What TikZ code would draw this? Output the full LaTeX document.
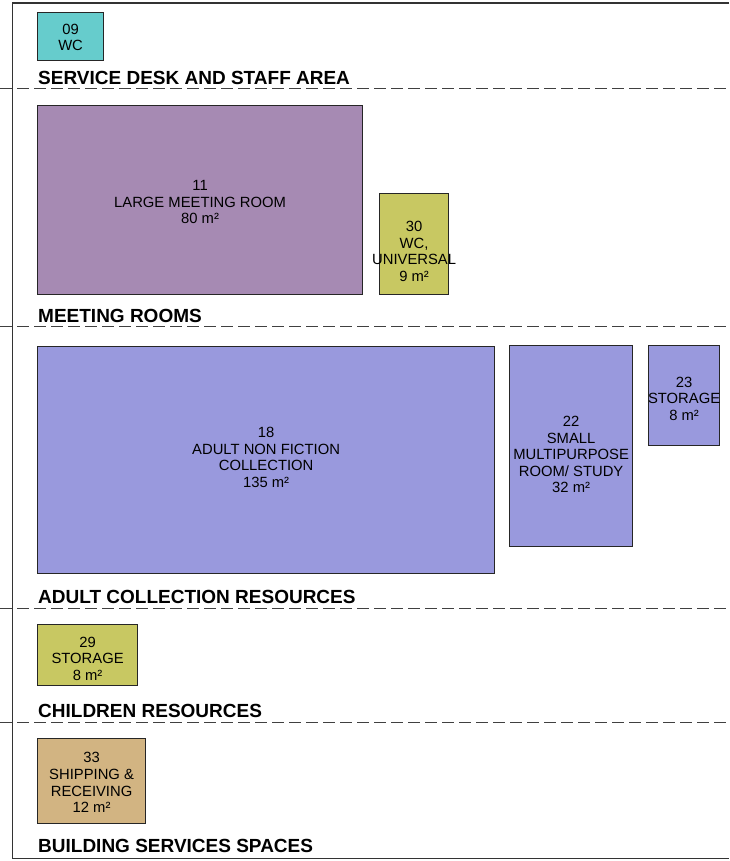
\documentclass[tikz,border=0pt]{standalone}
\usepackage{fontspec}
\setmainfont{Liberation Sans}
\begin{document}
\begin{tikzpicture}[x=1pt,y=-1pt,
  room/.style={draw=black!85, line width=1.2pt, inner sep=0pt, anchor=north west},
  roomtext/.style={align=center, inner sep=0pt, font=\fontsize{14.8}{16.6}\selectfont},
  zonelabel/.style={anchor=base west, inner sep=0pt, font=\bfseries\fontsize{19}{20}\selectfont},
  divider/.style={draw=black!75, line width=1.3pt, dash pattern=on 12pt off 5pt},
  frame/.style={draw=black!80, line width=1.3pt}]
\definecolor{wcteal}{HTML}{66CCCC}
\definecolor{meetpurple}{HTML}{A68AB3}
\definecolor{olive}{HTML}{C8C862}
\definecolor{lavender}{HTML}{9999DD}
\definecolor{tan}{HTML}{D2B482}

\useasboundingbox (0,0) rectangle (729,861);

% outer frame, open on the right
\draw[frame] (729,3) -- (12.5,3) -- (12.5,858.5) -- (729,858.5);

% zone dividers
\foreach \yy in {88.5,326.5,608.5,722.5}
  \draw[divider] (0,\yy) -- (729,\yy);

% zone titles
\node[zonelabel] (zsd) at (38,85) {SERVICE DESK AND STAFF AREA};
\node[zonelabel] (zmr) at (38,322) {MEETING ROOMS};
\node[zonelabel] (zac) at (38,603) {ADULT COLLECTION RESOURCES};
\node[zonelabel] (zcr) at (38,717) {CHILDREN RESOURCES};
\node[zonelabel] (zbs) at (38,852.5) {BUILDING SERVICES SPACES};

% rooms
\node[room, fill=wcteal, minimum width=66pt, minimum height=48pt] (r09) at (37,12) {};
\node[roomtext] at ([yshift=-1pt]r09.center) {09\\WC};

\node[room, fill=meetpurple, minimum width=325pt, minimum height=189pt] (r11) at (37,105) {};
\node[roomtext] at ([yshift=-2pt]r11.center) {11\\LARGE MEETING ROOM\\80 m²};

\node[room, fill=olive, minimum width=69pt, minimum height=101pt] (r30) at (379,193) {};
\node[roomtext] at ([yshift=-7.5pt]r30.center) {30\\WC,\\UNIVERSAL\\9 m²};

\node[room, fill=lavender, minimum width=457pt, minimum height=227pt] (r18) at (37,346) {};
\node[roomtext] at ([yshift=2.5pt]r18.center) {18\\ADULT NON FICTION\\COLLECTION\\135 m²};

\node[room, fill=lavender, minimum width=123pt, minimum height=201pt] (r22) at (509,345) {};
\node[roomtext] at ([yshift=-8.5pt]r22.center) {22\\SMALL\\MULTIPURPOSE\\ROOM/ STUDY\\32 m²};

\node[room, fill=lavender, minimum width=71pt, minimum height=100pt] (r23) at (648,345) {};
\node[roomtext] at ([yshift=-3pt]r23.center) {23\\STORAGE\\8 m²};

\node[room, fill=olive, minimum width=100pt, minimum height=61pt] (r29) at (37,624) {};
\node[roomtext] at ([yshift=-3.5pt]r29.center) {29\\STORAGE\\8 m²};

\node[room, fill=tan, minimum width=108pt, minimum height=85pt] (r33) at (37,738) {};
\node[roomtext] at ([yshift=-1.5pt]r33.center) {33\\SHIPPING \&\\RECEIVING\\12 m²};
\end{tikzpicture}
\end{document}
